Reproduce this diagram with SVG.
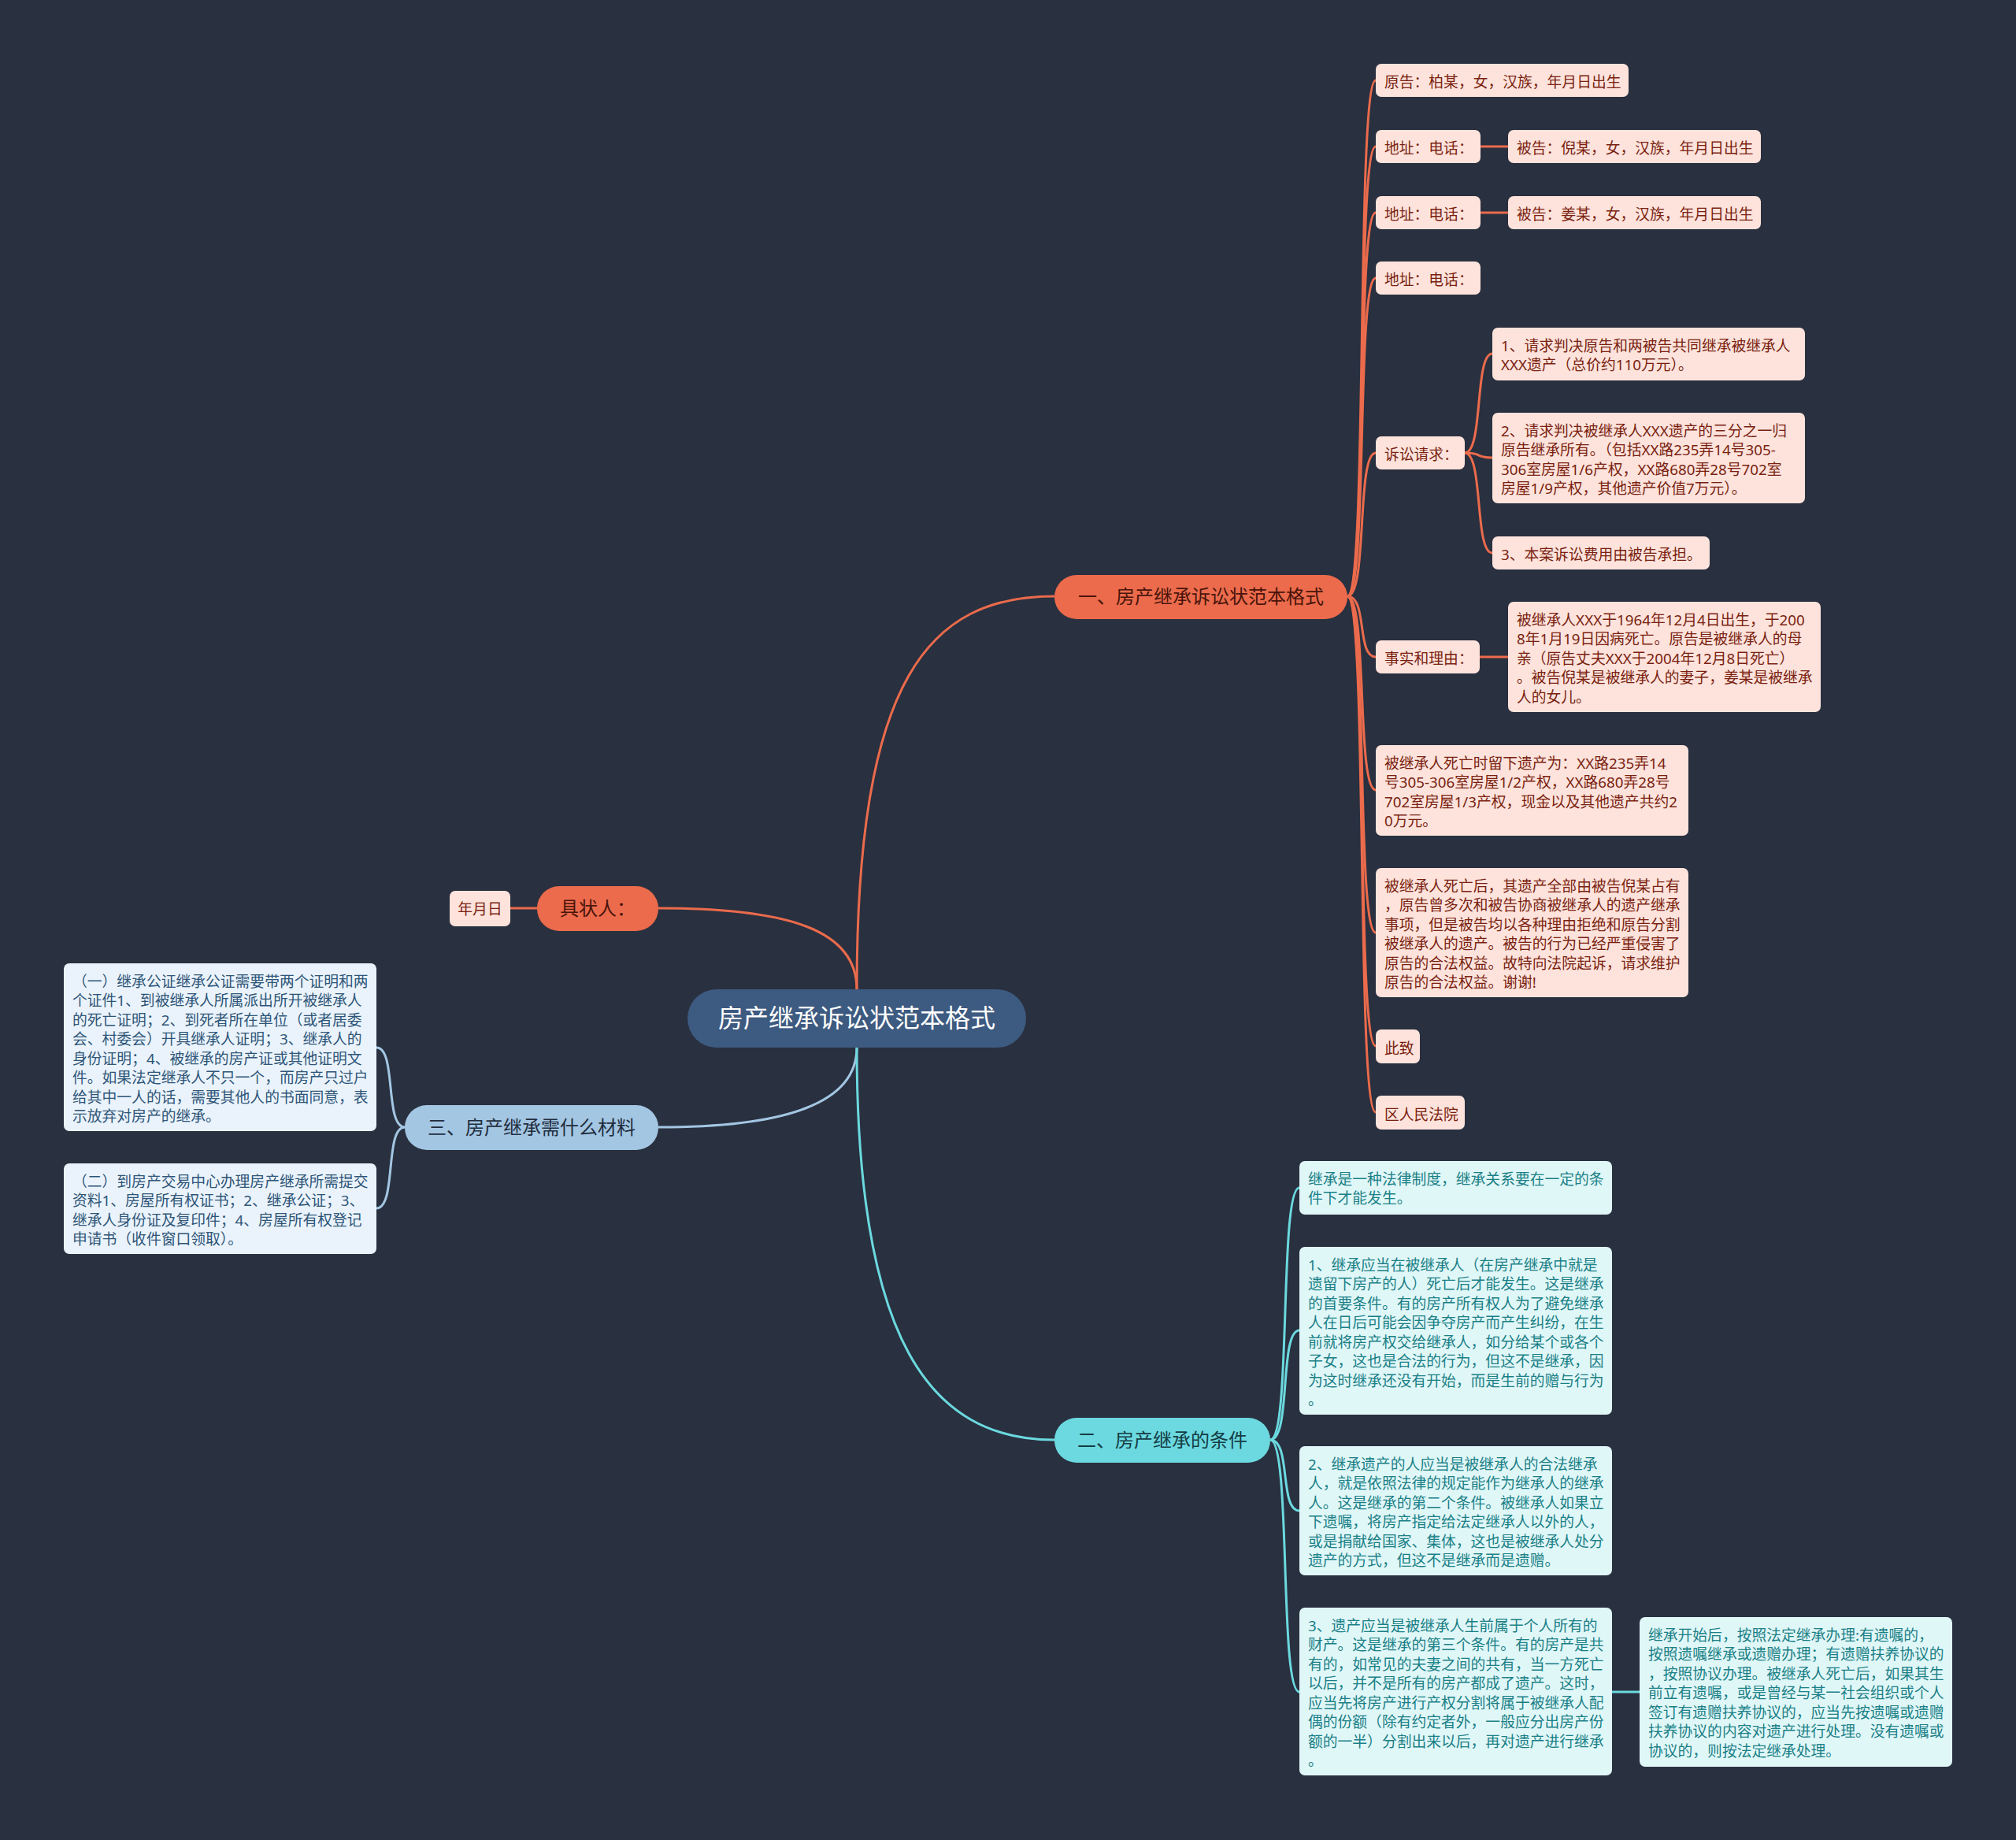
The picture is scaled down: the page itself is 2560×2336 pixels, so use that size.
<svg xmlns="http://www.w3.org/2000/svg" width="2560" height="2336" viewBox="0 0 2560 2336">
<style>
text{font-family:"Noto Sans","Noto Sans CJK SC",sans-serif;}
.bg{fill:#29303f;}
.lf{font-size:18.8px;transform:translateY(2.5px);}
.pk{fill:#fde3dc;}
.pkt{fill:#7a1f10;}
.lb{fill:#eaf3fb;}
.lbt{fill:#2e5578;}
.cy{fill:#e0f7f8;}
.cyt{fill:#1a7f86;}
.br{font-size:24px;text-anchor:middle;}
.eo{fill:none;stroke:#eb6b4c;stroke-width:3;}
.eb{fill:none;stroke:#a3c6e3;stroke-width:3;}
.ec{fill:none;stroke:#6bd9df;stroke-width:3;}
</style>
<rect class="bg" x="0" y="0" width="2560" height="2336"/>
<g id="connectors">
<path class="eo" d="M1088 1256 C1088 860 1180 757 1339 757"/>
<path class="eo" d="M1088 1256 C1088 1180 1000 1153 836 1153"/>
<path class="eb" d="M1088 1330 C1088 1400 1000 1431 836 1431"/>
<path class="ec" d="M1088 1330 C1088 1700 1180 1828 1339 1828"/>
<path class="eo" d="M682 1153 L648 1153"/>
<path class="eo" d="M1711 757 C1737 757 1722 102 1747 102"/>
<path class="eo" d="M1711 757 C1737 757 1722 186 1747 186"/>
<path class="eo" d="M1711 757 C1737 757 1722 270 1747 270"/>
<path class="eo" d="M1711 757 C1737 757 1722 353 1747 353"/>
<path class="eo" d="M1711 757 C1737 757 1722 575 1747 575"/>
<path class="eo" d="M1711 757 C1737 757 1722 834 1747 834"/>
<path class="eo" d="M1711 757 C1737 757 1722 1003 1747 1003"/>
<path class="eo" d="M1711 757 C1737 757 1722 1184 1747 1184"/>
<path class="eo" d="M1711 757 C1737 757 1722 1328 1747 1328"/>
<path class="eo" d="M1711 757 C1737 757 1722 1412 1747 1412"/>
<path class="eo" d="M1880 186 L1915 186"/>
<path class="eo" d="M1880 270 L1915 270"/>
<path class="eo" d="M1879 834 L1915 834"/>
<path class="eo" d="M1860 575 C1884 575 1872 449 1895 449"/>
<path class="eo" d="M1860 575 C1884 575 1872 581 1895 581"/>
<path class="eo" d="M1860 575 C1884 575 1872 702 1895 702"/>
<path class="eb" d="M514 1431 C488 1431 504 1330 478 1330"/>
<path class="eb" d="M514 1431 C488 1431 504 1534 478 1534"/>
<path class="ec" d="M1613 1828 C1640 1828 1624 1508 1650 1508"/>
<path class="ec" d="M1613 1828 C1640 1828 1624 1689 1650 1689"/>
<path class="ec" d="M1613 1828 C1640 1828 1624 1918 1650 1918"/>
<path class="ec" d="M1613 1828 C1640 1828 1624 2148 1650 2148"/>
<path class="ec" d="M2047 2148 L2082 2148"/>
</g>
<g id="root">
<rect x="873" y="1256" width="430" height="74" rx="37" fill="#3d5a80"/>
<text x="1088" y="1304" font-size="32" fill="#ffffff" text-anchor="middle">房产继承诉讼状范本格式</text>
</g>
<g id="b1">
<rect x="1339" y="730" width="372" height="56" rx="28" fill="#eb6b4c"/>
<text class="br" x="1525" y="766" fill="#4a140a">一、房产继承诉讼状范本格式</text>
</g>
<g id="b-jzr">
<rect x="682" y="1125" width="154" height="57" rx="28" fill="#eb6b4c"/>
<text class="br" x="759" y="1162" fill="#4a140a">具状人：</text>
</g>
<g id="n-nyr">
<rect class="pk" x="571" y="1131" width="77" height="45" rx="7"/>
<text class="lf pkt" x="609.5" y="1158" text-anchor="middle">年月日</text>
</g>
<g id="b3">
<rect x="514" y="1403" width="322" height="57" rx="28" fill="#a3c6e3"/>
<text class="br" x="675" y="1440" fill="#1f2d3d">三、房产继承需什么材料</text>
</g>
<g id="b2">
<rect x="1339" y="1800" width="274" height="57" rx="28" fill="#6bd9df"/>
<text class="br" x="1476" y="1837" fill="#153c44">二、房产继承的条件</text>
</g>
<g id="n-yg">
<rect class="pk" x="1747" y="81" width="321" height="42" rx="7"/>
<text class="lf pkt" x="1758" y="108.5">原告：柏某，女，汉族，年月日出生</text>
</g>
<g id="n-dz1">
<rect class="pk" x="1747" y="165" width="133" height="42" rx="7"/>
<text class="lf pkt" x="1758" y="192.5">地址：电话：</text>
</g>
<g id="n-bg1">
<rect class="pk" x="1915" y="165" width="321" height="42" rx="7"/>
<text class="lf pkt" x="1926" y="192.5">被告：倪某，女，汉族，年月日出生</text>
</g>
<g id="n-dz2">
<rect class="pk" x="1747" y="249" width="133" height="42" rx="7"/>
<text class="lf pkt" x="1758" y="276.5">地址：电话：</text>
</g>
<g id="n-bg2">
<rect class="pk" x="1915" y="249" width="321" height="42" rx="7"/>
<text class="lf pkt" x="1926" y="276.5">被告：姜某，女，汉族，年月日出生</text>
</g>
<g id="n-dz3">
<rect class="pk" x="1747" y="332" width="133" height="42" rx="7"/>
<text class="lf pkt" x="1758" y="359.5">地址：电话：</text>
</g>
<g id="n-ssqq">
<rect class="pk" x="1747" y="554" width="113" height="42" rx="7"/>
<text class="lf pkt" x="1758" y="581.5">诉讼请求：</text>
</g>
<g id="n-q1">
<rect class="pk" x="1895" y="416" width="397" height="67" rx="7"/>
<text class="lf pkt"><tspan x="1906" y="443">1、请求判决原告和两被告共同继承被继承人</tspan><tspan x="1906" y="467.5">XXX遗产（总价约110万元）。</tspan></text>
</g>
<g id="n-q2">
<rect class="pk" x="1895" y="524" width="397" height="115" rx="7"/>
<text class="lf pkt"><tspan x="1906" y="551">2、请求判决被继承人XXX遗产的三分之一归</tspan><tspan x="1906" y="575.5">原告继承所有。（包括XX路235弄14号305-</tspan><tspan x="1906" y="600">306室房屋1/6产权，XX路680弄28号702室</tspan><tspan x="1906" y="624.5">房屋1/9产权，其他遗产价值7万元）。</tspan></text>
</g>
<g id="n-q3">
<rect class="pk" x="1895" y="681" width="276" height="42" rx="7"/>
<text class="lf pkt" x="1906" y="708.5">3、本案诉讼费用由被告承担。</text>
</g>
<g id="n-ssly">
<rect class="pk" x="1747" y="813" width="132" height="42" rx="7"/>
<text class="lf pkt" x="1758" y="840.5">事实和理由：</text>
</g>
<g id="n-fact">
<rect class="pk" x="1915" y="764" width="397" height="140" rx="7"/>
<text class="lf pkt"><tspan x="1926" y="791">被继承人XXX于1964年12月4日出生，于200</tspan><tspan x="1926" y="815.5">8年1月19日因病死亡。原告是被继承人的母</tspan><tspan x="1926" y="840">亲（原告丈夫XXX于2004年12月8日死亡）</tspan><tspan x="1926" y="864.5">。被告倪某是被继承人的妻子，姜某是被继承</tspan><tspan x="1926" y="889">人的女儿。</tspan></text>
</g>
<g id="n-estate">
<rect class="pk" x="1747" y="946" width="397" height="115" rx="7"/>
<text class="lf pkt"><tspan x="1758" y="973">被继承人死亡时留下遗产为：XX路235弄14</tspan><tspan x="1758" y="997.5">号305-306室房屋1/2产权，XX路680弄28号</tspan><tspan x="1758" y="1022">702室房屋1/3产权，现金以及其他遗产共约2</tspan><tspan x="1758" y="1046.5">0万元。</tspan></text>
</g>
<g id="n-after">
<rect class="pk" x="1747" y="1102" width="397" height="164" rx="7"/>
<text class="lf pkt"><tspan x="1758" y="1129">被继承人死亡后，其遗产全部由被告倪某占有</tspan><tspan x="1758" y="1153.5">，原告曾多次和被告协商被继承人的遗产继承</tspan><tspan x="1758" y="1178">事项，但是被告均以各种理由拒绝和原告分割</tspan><tspan x="1758" y="1202.5">被继承人的遗产。被告的行为已经严重侵害了</tspan><tspan x="1758" y="1227">原告的合法权益。故特向法院起诉，请求维护</tspan><tspan x="1758" y="1251.5">原告的合法权益。谢谢!</tspan></text>
</g>
<g id="n-cz">
<rect class="pk" x="1747" y="1307" width="56" height="43" rx="7"/>
<text class="lf pkt" x="1758" y="1335">此致</text>
</g>
<g id="n-fy">
<rect class="pk" x="1747" y="1391" width="113" height="43" rx="7"/>
<text class="lf pkt" x="1758" y="1419">区人民法院</text>
</g>
<g id="n-m1">
<rect class="lb" x="81" y="1223" width="397" height="213" rx="7"/>
<text class="lf lbt"><tspan x="92" y="1250">（一）继承公证继承公证需要带两个证明和两</tspan><tspan x="92" y="1274.5">个证件1、到被继承人所属派出所开被继承人</tspan><tspan x="92" y="1299">的死亡证明；2、到死者所在单位（或者居委</tspan><tspan x="92" y="1323.5">会、村委会）开具继承人证明；3、继承人的</tspan><tspan x="92" y="1348">身份证明；4、被继承的房产证或其他证明文</tspan><tspan x="92" y="1372.5">件。如果法定继承人不只一个，而房产只过户</tspan><tspan x="92" y="1397">给其中一人的话，需要其他人的书面同意，表</tspan><tspan x="92" y="1421.5">示放弃对房产的继承。</tspan></text>
</g>
<g id="n-m2">
<rect class="lb" x="81" y="1477" width="397" height="115" rx="7"/>
<text class="lf lbt"><tspan x="92" y="1504">（二）到房产交易中心办理房产继承所需提交</tspan><tspan x="92" y="1528.5">资料1、房屋所有权证书；2、继承公证；3、</tspan><tspan x="92" y="1553">继承人身份证及复印件；4、房屋所有权登记</tspan><tspan x="92" y="1577.5">申请书（收件窗口领取）。</tspan></text>
</g>
<g id="n-c0">
<rect class="cy" x="1650" y="1474" width="397" height="68" rx="7"/>
<text class="lf cyt"><tspan x="1661" y="1501">继承是一种法律制度，继承关系要在一定的条</tspan><tspan x="1661" y="1525.5">件下才能发生。</tspan></text>
</g>
<g id="n-c1">
<rect class="cy" x="1650" y="1583" width="397" height="213" rx="7"/>
<text class="lf cyt"><tspan x="1661" y="1610">1、继承应当在被继承人（在房产继承中就是</tspan><tspan x="1661" y="1634.5">遗留下房产的人）死亡后才能发生。这是继承</tspan><tspan x="1661" y="1659">的首要条件。有的房产所有权人为了避免继承</tspan><tspan x="1661" y="1683.5">人在日后可能会因争夺房产而产生纠纷，在生</tspan><tspan x="1661" y="1708">前就将房产权交给继承人，如分给某个或各个</tspan><tspan x="1661" y="1732.5">子女，这也是合法的行为，但这不是继承，因</tspan><tspan x="1661" y="1757">为这时继承还没有开始，而是生前的赠与行为</tspan><tspan x="1661" y="1781.5">。</tspan></text>
</g>
<g id="n-c2">
<rect class="cy" x="1650" y="1836" width="397" height="164" rx="7"/>
<text class="lf cyt"><tspan x="1661" y="1863">2、继承遗产的人应当是被继承人的合法继承</tspan><tspan x="1661" y="1887.5">人，就是依照法律的规定能作为继承人的继承</tspan><tspan x="1661" y="1912">人。这是继承的第二个条件。被继承人如果立</tspan><tspan x="1661" y="1936.5">下遗嘱，将房产指定给法定继承人以外的人，</tspan><tspan x="1661" y="1961">或是捐献给国家、集体，这也是被继承人处分</tspan><tspan x="1661" y="1985.5">遗产的方式，但这不是继承而是遗赠。</tspan></text>
</g>
<g id="n-c3">
<rect class="cy" x="1650" y="2041" width="397" height="213" rx="7"/>
<text class="lf cyt"><tspan x="1661" y="2068">3、遗产应当是被继承人生前属于个人所有的</tspan><tspan x="1661" y="2092.5">财产。这是继承的第三个条件。有的房产是共</tspan><tspan x="1661" y="2117">有的，如常见的夫妻之间的共有，当一方死亡</tspan><tspan x="1661" y="2141.5">以后，并不是所有的房产都成了遗产。这时，</tspan><tspan x="1661" y="2166">应当先将房产进行产权分割将属于被继承人配</tspan><tspan x="1661" y="2190.5">偶的份额（除有约定者外，一般应分出房产份</tspan><tspan x="1661" y="2215">额的一半）分割出来以后，再对遗产进行继承</tspan><tspan x="1661" y="2239.5">。</tspan></text>
</g>
<g id="n-c4">
<rect class="cy" x="2082" y="2053" width="397" height="190" rx="7"/>
<text class="lf cyt"><tspan x="2093" y="2080">继承开始后，按照法定继承办理:有遗嘱的，</tspan><tspan x="2093" y="2104.5">按照遗嘱继承或遗赠办理；有遗赠扶养协议的</tspan><tspan x="2093" y="2129">，按照协议办理。被继承人死亡后，如果其生</tspan><tspan x="2093" y="2153.5">前立有遗嘱，或是曾经与某一社会组织或个人</tspan><tspan x="2093" y="2178">签订有遗赠扶养协议的，应当先按遗嘱或遗赠</tspan><tspan x="2093" y="2202.5">扶养协议的内容对遗产进行处理。没有遗嘱或</tspan><tspan x="2093" y="2227">协议的，则按法定继承处理。</tspan></text>
</g>
</svg>
